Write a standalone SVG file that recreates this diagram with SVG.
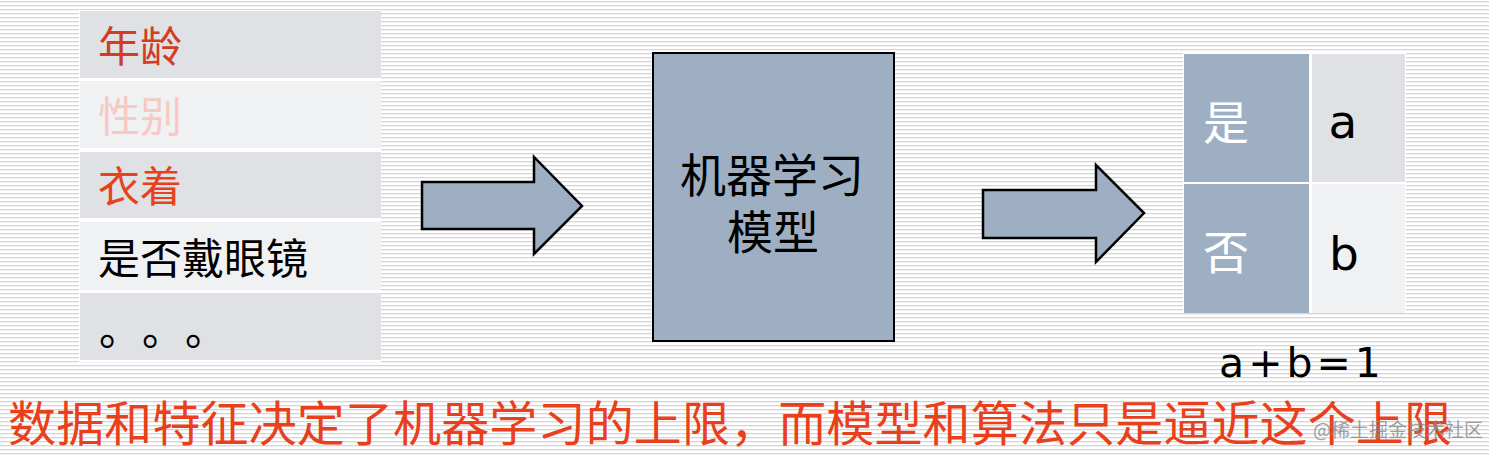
<svg xmlns="http://www.w3.org/2000/svg" width="1489" height="455" viewBox="0 0 1489 455">
<defs>
<pattern id="stripes" x="0" y="0" width="8" height="4" patternUnits="userSpaceOnUse">
<rect x="0" y="0" width="8" height="4" fill="#ffffff"/>
<rect x="0" y="1" width="8" height="1.3" fill="#d6d6d6"/>
</pattern>
<style>
.cjk{font-family:"Noto Sans CJK SC","Noto Sans",sans-serif;}
.lat{font-family:"DejaVu Sans","Liberation Sans",sans-serif;}
.dark{fill:#dfe1e5;}
.light{fill:#f0f1f3;}
.blue{fill:#9eafc3;}
.arrow{fill:#9eafc3;stroke:#000;stroke-width:2.5;stroke-linejoin:miter;}
</style>
</defs>
<rect x="0" y="0" width="1489" height="455" fill="url(#stripes)"/>

<g id="features">
<rect x="79" y="10" width="302" height="352" fill="#ffffff"/>
<rect class="dark" x="80" y="11" width="301" height="67"/>
<rect class="light" x="80" y="81" width="301" height="67"/>
<rect class="dark" x="80" y="152" width="301" height="66"/>
<rect class="light" x="80" y="222" width="301" height="68"/>
<rect class="dark" x="80" y="293" width="301" height="67"/>
<text class="cjk" x="98" y="62" font-size="42" fill="#d23c1f">年龄</text>
<text class="cjk" x="98" y="132" font-size="42" fill="#f7c9c2">性别</text>
<text class="cjk" x="98" y="202" font-size="42" fill="#e8421d">衣着</text>
<text class="cjk" x="98" y="274" font-size="42" fill="#000000">是否戴眼镜</text>
<text class="cjk" x="99" y="345" font-size="42" fill="#000000" letter-spacing="22">。。。</text>
</g>

<g id="model">
<rect x="653" y="53" width="241" height="288" fill="#9eafc3" stroke="#000" stroke-width="2"/>
<text class="cjk" x="772" y="192" font-size="46" fill="#000" text-anchor="middle">机器学习</text>
<text class="cjk" x="773" y="249" font-size="46" fill="#000" text-anchor="middle">模型</text>
</g>

<g id="output">
<rect x="1183" y="53" width="223" height="260" fill="#ffffff"/>
<rect class="blue" x="1184" y="54" width="125" height="128"/>
<rect class="blue" x="1184" y="184" width="125" height="129"/>
<rect class="dark" x="1312" y="54" width="93" height="128"/>
<rect class="light" x="1312" y="184" width="93" height="129"/>
<text class="cjk" x="1203" y="139" font-size="46" fill="#ffffff">是</text>
<text class="cjk" x="1203" y="269" font-size="46" fill="#ffffff">否</text>
<text class="lat" x="1343" y="138" font-size="47" fill="#000" text-anchor="middle">a</text>
<text class="lat" x="1344" y="270" font-size="47" fill="#000" text-anchor="middle">b</text>
</g>

<g id="sum">
<text class="lat" x="1302" y="377" font-size="41" fill="#000" text-anchor="middle" letter-spacing="4">a+b=1</text>
</g>

<g id="connectors">
<polygon class="arrow" points="422,182 534,182 534,157 582,206 534,254 534,229 422,229"/>
<polygon class="arrow" points="983,190 1096,190 1096,165 1144,213 1096,262 1096,238 983,238"/>
</g>

<g id="caption">
<text class="cjk" x="8" y="441" font-size="48" fill="#e8401c" textLength="1444" lengthAdjust="spacing">数据和特征决定了机器学习的上限，而模型和算法只是逼近这个上限</text>
</g>

<g id="watermark">
<text class="cjk" x="1313" y="437" font-size="19" fill="#8c8c8c" fill-opacity="0.85">@稀土掘金技术社区</text>
</g>
</svg>
